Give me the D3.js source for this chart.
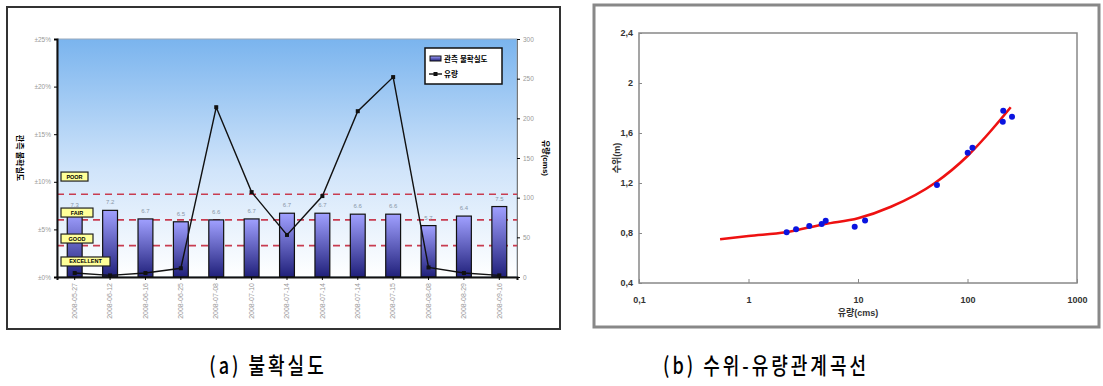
<!DOCTYPE html>
<html>
<head>
<meta charset="utf-8">
<script src="https://cdn.jsdelivr.net/npm/d3@7"></script>
<style>
  body { margin: 0; background: #fff; }
  svg { display: block; font-family: "Liberation Sans", "Noto Sans CJK KR", sans-serif; }
</style>
</head>
<body>
<svg id="chart" width="1103" height="386"></svg>
<script>
// (a) uncertainty per measurement date
const dates = ["2008-05-27", "2008-06-12", "2008-06-16", "2008-06-25", "2008-07-08", "2008-07-10",
  "2008-07-14", "2008-07-14", "2008-07-14", "2008-07-15", "2008-08-08", "2008-08-29", "2008-09-16"];
const uncertainty = [6.7, 7.0, 6.1, 5.8, 6.0, 6.1, 6.7, 6.7, 6.6, 6.6, 5.4, 6.4, 7.4];
const uncertaintyLabels = ["7.3", "7.2", "6.7", "6.5", "6.6", "6.7", "6.7", "6.7", "6.6", "6.6", "5.7", "6.4", "7.5"];
const flow = [5, 2, 5, 11, 214, 107, 53, 102, 209, 252, 12, 5, 2];
const pctTicks = [0, 5, 10, 15, 20, 25];
const flowTicks = [0, 50, 100, 150, 200, 250, 300];
const thresholds = [8.7, 6.0, 3.3];
const qualityNames = ["POOR", "FAIR", "GOOD", "EXCELLENT"];
const qualityAt = [10.55, 6.77, 4.04, 1.63];

// (b) stage-discharge rating
const obsQ = [2.23, 2.72, 3.59, 4.66, 5.07, 9.33, 11.6, 52.6, 100.4, 111, 212, 210, 255];
const obsH = [0.806, 0.83, 0.856, 0.872, 0.898, 0.85, 0.90, 1.184, 1.442, 1.483, 1.778, 1.69, 1.73];
const fitQ = [0.55, 1, 2.2, 5, 10, 20, 50, 100, 150, 248];
const fitH = [0.75, 0.776, 0.806, 0.872, 0.918, 1.01, 1.198, 1.416, 1.58, 1.806];
const qTicks = [0.1, 1, 10, 100, 1000];
const hTicks = [0.4, 0.8, 1.2, 1.6, 2.0, 2.4];

const svg = d3.select("#chart");
const comma = d => String(d).replace(".", ",");

// ---------- chart (a) ----------
const A = { left: 57, right: 517, top: 39, bottom: 277 };
svg.append("rect").attr("x", 7).attr("y", 7).attr("width", 553).attr("height", 322)
  .attr("fill", "#fff").attr("stroke", "#333").attr("stroke-width", 2);

const defs = svg.append("defs");
const bg = defs.append("linearGradient").attr("id", "bgGrad").attr("x1", 0).attr("y1", 0).attr("x2", 0).attr("y2", 1);
bg.append("stop").attr("offset", "0%").attr("stop-color", "#7ab4ee");
bg.append("stop").attr("offset", "55%").attr("stop-color", "#d0e4fa");
bg.append("stop").attr("offset", "100%").attr("stop-color", "#ffffff");
const barG = defs.append("linearGradient").attr("id", "barGrad").attr("x1", 0).attr("y1", 0).attr("x2", 0).attr("y2", 1);
barG.append("stop").attr("offset", "0%").attr("stop-color", "#a0a0ff");
barG.append("stop").attr("offset", "100%").attr("stop-color", "#20207a");

const xA = d3.scaleBand().domain(d3.range(dates.length)).range([A.left, A.right]).paddingInner(0.58).paddingOuter(0.29);
const yA = d3.scaleLinear().domain([0, 25]).range([A.bottom, A.top]);
const yF = d3.scaleLinear().domain([0, 300]).range([A.bottom, A.top]);

svg.append("rect").attr("x", A.left).attr("y", A.top).attr("width", A.right - A.left).attr("height", A.bottom - A.top)
  .attr("fill", "url(#bgGrad)").attr("stroke", "#9ab").attr("stroke-width", 1);

// thresholds
svg.append("g").selectAll("line").data(thresholds).join("line")
  .attr("x1", A.left).attr("x2", A.right).attr("y1", d => yA(d)).attr("y2", d => yA(d))
  .attr("stroke", "#c83c50").attr("stroke-width", 1.6).attr("stroke-dasharray", "7,5");

// bars
svg.append("g").selectAll("rect").data(uncertainty).join("rect")
  .attr("x", (d, i) => xA(i)).attr("width", xA.bandwidth())
  .attr("y", d => yA(d)).attr("height", d => yA(0) - yA(d))
  .attr("fill", "url(#barGrad)").attr("stroke", "#111").attr("stroke-width", 1.2);

svg.append("g").selectAll("text").data(uncertaintyLabels).join("text")
  .attr("x", (d, i) => xA(i) + xA.bandwidth() / 2).attr("y", (d, i) => yA(uncertainty[i]) - 6)
  .attr("text-anchor", "middle").attr("font-size", 6).attr("fill", "#8a97a8").text(d => d);

// quality labels
const boxW = d => d === "POOR" ? 27 : d === "EXCELLENT" ? 49 : 32;
const qg = svg.append("g").selectAll("g").data(qualityNames).join("g")
  .attr("transform", (d, i) => `translate(61,${yA(qualityAt[i]) - 4.5})`);
qg.append("rect").attr("width", boxW).attr("height", 9)
  .attr("fill", "#ffff99").attr("stroke", "#222").attr("stroke-width", 1.2);
qg.append("text").attr("x", d => boxW(d) / 2).attr("y", 6.5)
  .attr("text-anchor", "middle").attr("font-size", 5.5).attr("font-weight", "bold").text(d => d);

// flow line
const line = d3.line().x((d, i) => xA(i) + xA.bandwidth() / 2).y(d => yF(d));
svg.append("path").datum(flow).attr("d", line).attr("fill", "none").attr("stroke", "#111").attr("stroke-width", 1.4);
svg.append("g").selectAll("rect").data(flow).join("rect")
  .attr("x", (d, i) => xA(i) + xA.bandwidth() / 2 - 2).attr("y", d => yF(d) - 2)
  .attr("width", 4).attr("height", 4).attr("fill", "#111");

// axes
const axL = svg.append("g").attr("transform", `translate(${A.left},0)`)
  .call(d3.axisLeft(yA).tickValues(pctTicks).tickSize(3).tickFormat(d => "\u00b1" + d + "%"));
axL.select(".domain").attr("stroke", "#111").attr("stroke-width", 2);
axL.selectAll("text").attr("font-size", 6.5).attr("fill", "#999");
const axR = svg.append("g").attr("transform", `translate(${A.right},0)`)
  .call(d3.axisRight(yF).tickValues(flowTicks).tickSize(3));
axR.select(".domain").attr("stroke", "#777");
axR.selectAll("text").attr("font-size", 6.5).attr("fill", "#999");
const axB = svg.append("g").attr("transform", `translate(0,${A.bottom})`)
  .call(d3.axisBottom(xA).tickSize(3).tickFormat(i => dates[i]));
axB.select(".domain").attr("stroke", "#111").attr("stroke-width", 2);
axB.selectAll("text").attr("font-size", 7).attr("fill", "#999")
  .attr("transform", "rotate(-90)").attr("text-anchor", "end").attr("x", -6).attr("y", 0).attr("dy", "0.32em");

svg.append("text").attr("transform", "translate(17,158) rotate(90)").attr("text-anchor", "middle")
  .attr("font-size", 8).attr("font-weight", "bold").text("관측 불확실도");
svg.append("text").attr("transform", "translate(543,158) rotate(90)").attr("text-anchor", "middle")
  .attr("font-size", 8).attr("font-weight", "bold").text("유량(cms)");

// legend
const lg = svg.append("g").attr("transform", "translate(425,48)");
lg.append("rect").attr("width", 77).attr("height", 36).attr("fill", "#fff").attr("stroke", "#111").attr("stroke-width", 1.5);
lg.append("rect").attr("x", 5).attr("y", 8).attr("width", 11).attr("height", 5).attr("fill", "url(#barGrad)").attr("stroke", "#111");
lg.append("text").attr("x", 19).attr("y", 13.5).attr("font-size", 7.5).attr("font-weight", "bold").text("관측 불확실도");
lg.append("line").attr("x1", 4).attr("x2", 17).attr("y1", 26).attr("y2", 26).attr("stroke", "#111").attr("stroke-width", 1.4);
lg.append("rect").attr("x", 8.5).attr("y", 24).attr("width", 4).attr("height", 4).attr("fill", "#111");
lg.append("text").attr("x", 19).attr("y", 29).attr("font-size", 7.5).attr("font-weight", "bold").text("유량");

// ---------- chart (b) ----------
const B = { left: 639, right: 1077, top: 33, bottom: 283 };
svg.append("rect").attr("x", 594).attr("y", 5).attr("width", 505).attr("height", 322)
  .attr("fill", "#fff").attr("stroke", "#888").attr("stroke-width", 3);
svg.append("rect").attr("x", B.left).attr("y", B.top).attr("width", B.right - B.left).attr("height", B.bottom - B.top)
  .attr("fill", "none").attr("stroke", "#888").attr("stroke-width", 1.5);

const xB = d3.scaleLog().domain([0.1, 1000]).range([B.left, B.right]);
const yB = d3.scaleLinear().domain([0.4, 2.4]).range([B.bottom, B.top]);

const bx = svg.append("g").attr("transform", `translate(0,${B.bottom})`)
  .call(d3.axisBottom(xB).tickValues(qTicks).tickSize(4).tickFormat(comma));
bx.select(".domain").remove();
bx.selectAll("line").attr("stroke", "#888").attr("transform", "translate(0,-4)");
bx.selectAll("text").attr("font-size", 9).attr("font-weight", "bold").attr("fill", "#333").attr("y", 14);
const by = svg.append("g").attr("transform", `translate(${B.left},0)`)
  .call(d3.axisLeft(yB).tickValues(hTicks).tickSize(3).tickFormat(comma));
by.select(".domain").remove();
by.selectAll("line").attr("stroke", "#888").attr("transform", "translate(3,0)");
by.selectAll("text").attr("font-size", 9).attr("font-weight", "bold").attr("fill", "#333").attr("x", -6);

svg.append("text").attr("transform", "translate(620,158) rotate(-90)").attr("text-anchor", "middle")
  .attr("font-size", 9).attr("font-weight", "bold").attr("fill", "#333").text("수위(m)");
svg.append("text").attr("x", 858).attr("y", 316).attr("text-anchor", "middle")
  .attr("font-size", 9).attr("font-weight", "bold").attr("fill", "#333").text("유량(cms)");

const fit = d3.line().curve(d3.curveMonotoneX).x((d, i) => xB(fitQ[i])).y(d => yB(d));
svg.append("path").datum(fitH).attr("d", fit).attr("fill", "none").attr("stroke", "#ee1111").attr("stroke-width", 2.6);
svg.append("g").selectAll("circle").data(obsQ).join("circle")
  .attr("cx", d => xB(d)).attr("cy", (d, i) => yB(obsH[i])).attr("r", 3).attr("fill", "#0a14e0");

// captions (tall, letter-spaced)
[["(a) 불확실도", 268], ["(b) 수위-유량관계곡선", 766]].forEach(([t, cx]) => {
  svg.append("text").attr("transform", `translate(${cx},374) scale(1,1.25)`)
    .attr("text-anchor", "middle").attr("font-size", 18).attr("letter-spacing", 3)
    .attr("font-family", "'Noto Sans CJK KR', sans-serif").attr("font-weight", 500).text(t);
});
</script>
</body>
</html>
